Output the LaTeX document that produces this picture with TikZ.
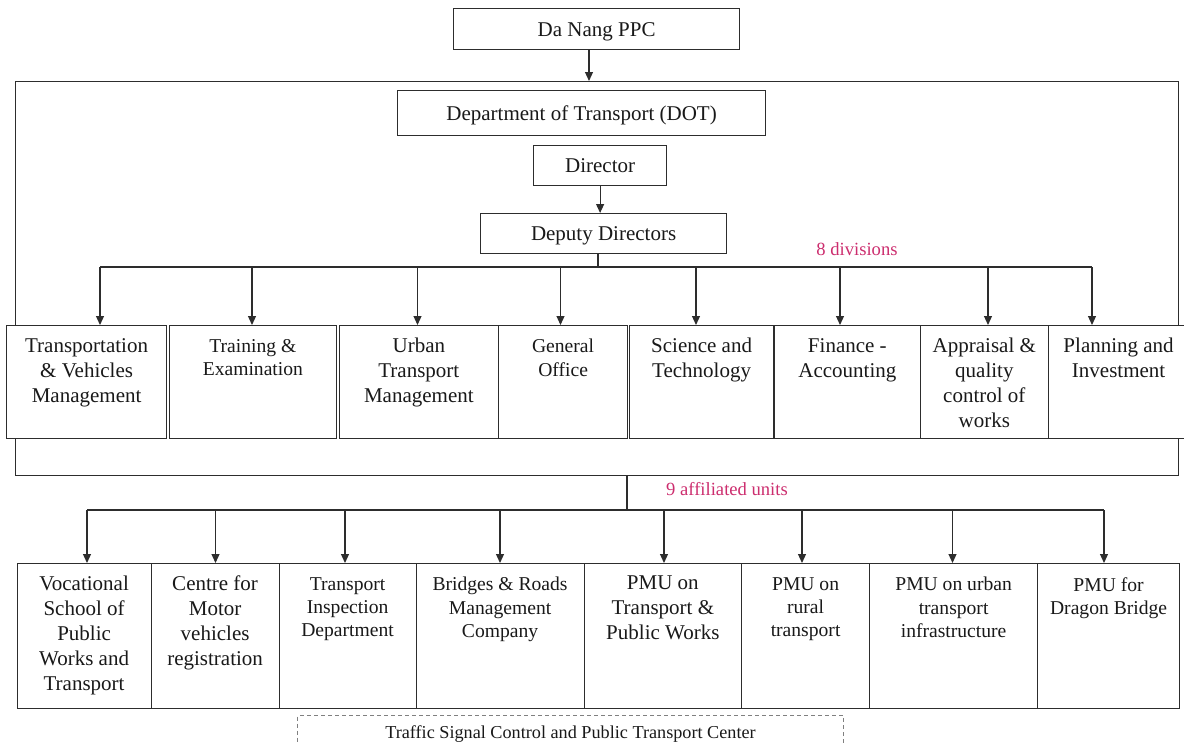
\documentclass[tikz,border=0pt]{standalone}
\usepackage{fontspec}
\setmainfont{Liberation Serif}
\usetikzlibrary{arrows.meta}

\definecolor{divpink}{RGB}{204,45,110}
\definecolor{boxline}{RGB}{45,45,45}
\newcommand{\bigtxt}{\fontsize{10.5}{12.5}\selectfont}
\newcommand{\smalltxt}{\fontsize{9.8}{11.6}\selectfont}

\begin{document}
\begin{tikzpicture}[x=0.5pt,y=-0.5pt,
    every node/.style={inner sep=0pt,text=black!90},
    box/.style={draw=boxline,fill=white,line width=0.6pt,anchor=north west,font=\bigtxt,text depth=0pt},
    boxtext/.style={anchor=north,yshift=-6.4pt,align=center,font=\bigtxt},
    boxsmall/.style={anchor=north,yshift=-6.9pt,align=center,font=\smalltxt},
    arr/.style={draw=boxline,line width=0.6pt,-{Triangle[length=4.5pt,width=4pt]}},
    bus/.style={draw=boxline,line width=0.6pt},
    note/.style={anchor=base,text=divpink,font=\fontsize{9.3}{11}\selectfont}]
      \useasboundingbox (0,0) rectangle (1184,744);
      \draw
        (453,8) node[box,minimum width=143pt,minimum height=20.5pt] (ppc){Da Nang PPC}
        (15,81) node[box,fill=none,minimum width=581.5pt,minimum height=197pt] (dotframe){}
        (397,90) node[box,minimum width=184pt,minimum height=22.5pt] (dot){Department of Transport (DOT)}
        (533,145) node[box,minimum width=66.5pt,minimum height=20pt] (dir){Director}
        (480,213) node[box,minimum width=123pt,minimum height=20pt] (dep){Deputy Directors};
      % divisions
      \draw
        (6,325) node[box,minimum width=80pt,minimum height=56.5pt,
          label={[boxtext]north:Transportation\\\& Vehicles\\Management}] (trans){}
        (168.5,325) node[box,minimum width=83.75pt,minimum height=56.5pt,
          label={[boxsmall]north:Training \&\\Examination}] (train){}
        (338.5,325) node[box,minimum width=79.75pt,minimum height=56.5pt,
          label={[boxtext]north:Urban\\Transport\\Management}] (urban){}
        (498,325) node[box,minimum width=64.5pt,minimum height=56.5pt,
          label={[boxsmall]north:General\\Office}] (office){}
        (629,325) node[box,minimum width=72pt,minimum height=56.5pt,
          label={[boxtext]north:Science and\\Technology}] (scitech){}
        (774,325) node[box,minimum width=72.75pt,minimum height=56.5pt,
          label={[boxtext]north:Finance -\\Accounting}] (finance){}
        (919.5,325) node[box,minimum width=64.25pt,minimum height=56.5pt,
          label={[boxtext]north:Appraisal \&\\quality\\control of\\works}] (apprais){}
        (1048,325) node[box,minimum width=70pt,minimum height=56.5pt,
          label={[boxtext]north:Planning and\\Investment}] (plan){};
      % affiliated units
      \draw
        (16.5,563) node[box,minimum width=67pt,minimum height=72.5pt,
          label={[boxtext]north:Vocational\\School of\\Public\\Works and\\Transport}] (vocschool){}
        (150.5,563) node[box,minimum width=64pt,minimum height=72.5pt,
          label={[boxtext]north:Centre for\\Motor\\vehicles\\registration}] (motorreg){}
        (278.5,563) node[box,minimum width=68.5pt,minimum height=72.5pt,
          label={[boxsmall]north:Transport\\Inspection\\Department}] (inspect){}
        (415.5,563) node[box,minimum width=84pt,minimum height=72.5pt,
          label={[boxsmall]north:Bridges \& Roads\\Management\\Company}] (bridges){}
        (583.5,563) node[box,minimum width=78.75pt,minimum height=72.5pt,
          label={[boxtext]north:PMU on\\Transport \&\\Public Works}] (pmupw){}
        (741,563) node[box,minimum width=64pt,minimum height=72.5pt,
          label={[boxsmall]north:PMU on\\rural\\transport}] (pmurural){}
        (869,563) node[box,minimum width=84pt,minimum height=72.5pt,
          label={[boxsmall]north:PMU on urban\\transport\\infrastructure}] (pmuurban){}
        (1037,563) node[box,minimum width=71pt,minimum height=72.5pt,
          label={[boxsmall]north:PMU for\\Dragon Bridge}] (pmudragon){};
      \draw
        (297,715) node[draw=gray,dash pattern=on 2pt off 1.5pt,line width=0.5pt,anchor=north west,
          minimum width=273pt,minimum height=24pt,
          label={[anchor=base,yshift=-11.5pt,font=\fontsize{9.1}{11}\selectfont]north:Traffic Signal Control and Public Transport Center}] (signal){};
      \node[note] (divnote) at (857,255) {8 divisions};
      \node[note] (unitnote) at (727,495) {9 affiliated units};
      % connectors
      \path (589,0) coordinate (ppcstem)
        (598,267) coordinate (dv0)
        (100,267) coordinate (dv1) (252,267) coordinate (dv2)
        (417.5,267) coordinate (dv3) (560.5,267) coordinate (dv4)
        (696,267) coordinate (dv5) (840,267) coordinate (dv6)
        (988,267) coordinate (dv7) (1092,267) coordinate (dv8)
        (627,510) coordinate (af0)
        (87,510) coordinate (af1) (215.5,510) coordinate (af2)
        (345,510) coordinate (af3) (500,510) coordinate (af4)
        (664,510) coordinate (af5) (802,510) coordinate (af6)
        (952.5,510) coordinate (af7) (1104,510) coordinate (af8);
      \draw[arr] (ppcstem |- ppc.south) -- (ppcstem |- dotframe.north);
      \draw[arr] (dir.south) -- (dir.south |- dep.north);
      \draw[bus] (dv0 |- dep.south) -- (dv0);
      \draw[bus] (dv1) -- (dv8);
      \draw[arr] (dv1) -- (dv1 |- trans.north);
      \draw[arr] (dv2) -- (dv2 |- train.north);
      \draw[arr] (dv3) -- (dv3 |- urban.north);
      \draw[arr] (dv4) -- (dv4 |- office.north);
      \draw[arr] (dv5) -- (dv5 |- scitech.north);
      \draw[arr] (dv6) -- (dv6 |- finance.north);
      \draw[arr] (dv7) -- (dv7 |- apprais.north);
      \draw[arr] (dv8) -- (dv8 |- plan.north);
      \draw[bus] (af0 |- dotframe.south) -- (af0);
      \draw[bus] (af1) -- (af8);
      \draw[arr] (af1) -- (af1 |- vocschool.north);
      \draw[arr] (af2) -- (af2 |- motorreg.north);
      \draw[arr] (af3) -- (af3 |- inspect.north);
      \draw[arr] (af4) -- (af4 |- bridges.north);
      \draw[arr] (af5) -- (af5 |- pmupw.north);
      \draw[arr] (af6) -- (af6 |- pmurural.north);
      \draw[arr] (af7) -- (af7 |- pmuurban.north);
      \draw[arr] (af8) -- (af8 |- pmudragon.north);
    \end{tikzpicture}
\end{document}
